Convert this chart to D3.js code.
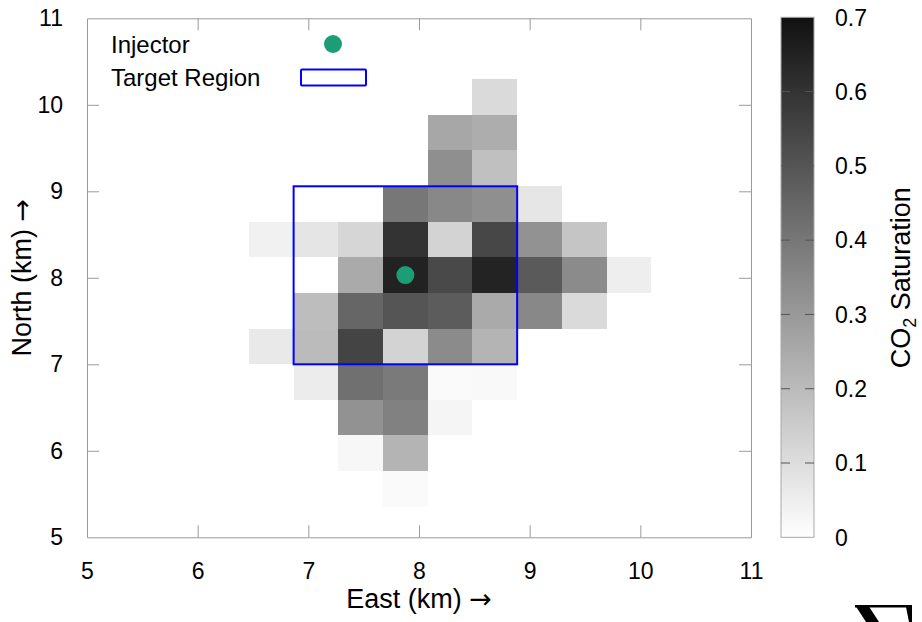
<!DOCTYPE html>
<html>
<head>
<meta charset="utf-8">
<script src="https://cdn.jsdelivr.net/npm/d3@7"></script>
<style>
  body { margin: 0; background: #fff; }
  svg { display: block; font-family: "Liberation Sans", Arial, Helvetica, sans-serif; }
  .frame path, .frame line { stroke: #9a9a9a; }
  .frame text { fill: #000; }
  .arrow { font-family: "DejaVu Sans", sans-serif; }
</style>
</head>
<body>
<div id="chart"></div>
<script>
// grid cell centres (km)
const eastCenters = [6.665, 7.069, 7.473, 7.877, 8.281, 8.685, 9.089, 9.493, 9.897];
const northCenters = [10.089, 9.677, 9.266, 8.854, 8.442, 8.031, 7.619, 7.207, 6.795, 6.384, 5.972, 5.560];
const cellW = 0.404, cellH = 0.412;

// CO2 saturation per row (north, top to bottom) and column (east); null = no cell
const saturation = [
  [null, null, null, null, null, 0.11, null, null, null],
  [null, null, null, null, 0.26, 0.24, null, null, null],
  [null, null, null, null, 0.33, 0.185, null, null, null],
  [null, null, 0, 0.40, 0.35, 0.33, 0.074, null, null],
  [0.04, 0.076, 0.12, 0.60, 0.13, 0.54, 0.32, 0.17, null],
  [null, 0, 0.25, 0.65, 0.535, 0.647, 0.485, 0.34, 0.05],
  [null, 0.194, 0.45, 0.50, 0.48, 0.25, 0.35, 0.11, null],
  [0.065, 0.20, 0.55, 0.13, 0.34, 0.22, null, null, null],
  [null, 0.056, 0.42, 0.39, 0.015, 0.018, null, null, null],
  [null, null, 0.32, 0.37, 0.03, null, null, null, null],
  [null, null, 0.024, 0.22, null, null, null, null, null],
  [null, null, null, 0.015, null, null, null, null, null]
];

const injector = { east: 7.877, north: 8.031 };
const targetEast = [6.867, 8.887];
const targetNorth = [7.0, 9.058];

const axisTicks = [5, 6, 7, 8, 9, 10, 11];
const colorTicks = [0, 0.1, 0.2, 0.3, 0.4, 0.5, 0.6, 0.7];

const width = 922, height = 622;
const margin = { left: 87, top: 18.3, right: 171, bottom: 84.7 };
const plotW = width - margin.left - margin.right;
const plotH = height - margin.top - margin.bottom;

const svg = d3.select("#chart").append("svg")
  .attr("width", width).attr("height", height);

const x = d3.scaleLinear().domain([5, 11]).range([margin.left, margin.left + plotW]);
const y = d3.scaleLinear().domain([5, 11]).range([margin.top + plotH, margin.top]);
const color = d3.scaleLinear().domain([0, 0.7]).range(["#ffffff", "#111111"]);

// cells
const cells = [];
saturation.forEach((row, i) => row.forEach((v, j) => {
  if (v !== null) cells.push({ east: eastCenters[j], north: northCenters[i], v });
}));

svg.append("g").selectAll("rect")
  .data(cells)
  .join("rect")
  .attr("x", d => x(d.east - cellW / 2))
  .attr("y", d => y(d.north + cellH / 2))
  .attr("width", d => x(d.east + cellW / 2) - x(d.east - cellW / 2))
  .attr("height", d => y(d.north - cellH / 2) - y(d.north + cellH / 2))
  .attr("fill", d => color(d.v))
  .attr("shape-rendering", "crispEdges");

// frame with inward ticks on all sides
const fs = 23;
const fmt = d3.format("d");
const frame = svg.append("g").attr("class", "frame");
frame.append("g")
  .attr("transform", `translate(0,${margin.top + plotH})`)
  .call(d3.axisBottom(x).tickValues(axisTicks).tickFormat(fmt).tickSizeInner(-12).tickSizeOuter(0).tickPadding(25))
  .call(g => g.selectAll("text").attr("font-size", fs));
frame.append("g")
  .attr("transform", `translate(0,${margin.top})`)
  .call(d3.axisTop(x).tickValues(axisTicks).tickSizeInner(-12).tickSizeOuter(0).tickFormat(""));
frame.append("g")
  .attr("transform", `translate(${margin.left},0)`)
  .call(d3.axisLeft(y).tickValues(axisTicks).tickFormat(fmt).tickSizeInner(-12).tickSizeOuter(0).tickPadding(24))
  .call(g => g.selectAll("text").attr("font-size", fs));
frame.append("g")
  .attr("transform", `translate(${margin.left + plotW},0)`)
  .call(d3.axisRight(y).tickValues(axisTicks).tickSizeInner(-12).tickSizeOuter(0).tickFormat(""));
frame.selectAll(".domain").attr("stroke", "#9a9a9a");
frame.selectAll("g.tick").filter(d => d === 5 || d === 11).select("line").remove();

// target region
svg.append("rect")
  .attr("x", x(targetEast[0]))
  .attr("y", y(targetNorth[1]))
  .attr("width", x(targetEast[1]) - x(targetEast[0]))
  .attr("height", y(targetNorth[0]) - y(targetNorth[1]))
  .attr("fill", "none")
  .attr("stroke", "#0000ff")
  .attr("stroke-width", 2);

// injector
svg.append("circle")
  .attr("cx", x(injector.east))
  .attr("cy", y(injector.north))
  .attr("r", 9)
  .attr("fill", "#1b9e77");

// legend
const legend = svg.append("g").attr("font-size", 24);
legend.append("text").attr("x", 111).attr("y", 53).text("Injector");
legend.append("text").attr("x", 111).attr("y", 85.5).text("Target Region");
legend.append("circle").attr("cx", 333).attr("cy", 44).attr("r", 9).attr("fill", "#1b9e77");
legend.append("rect").attr("x", 301).attr("y", 69.5).attr("width", 65).attr("height", 16)
  .attr("fill", "none").attr("stroke", "#0000ff").attr("stroke-width", 2).attr("rx", 1);

// axis titles
const xTitle = svg.append("text")
  .attr("x", margin.left + plotW / 2).attr("y", 608)
  .attr("text-anchor", "middle").attr("font-size", 27);
xTitle.append("tspan").text("East (km) ");
xTitle.append("tspan").attr("class", "arrow").text("\u2192");
const yTitle = svg.append("text")
  .attr("transform", `translate(31,${margin.top + plotH / 2}) rotate(-90)`)
  .attr("text-anchor", "middle").attr("font-size", 27);
yTitle.append("tspan").text("North (km) ");
yTitle.append("tspan").attr("class", "arrow").text("\u2192");

// colour bar
const cbX = 781, cbW = 33;
const cy = d3.scaleLinear().domain([0, 0.7]).range([margin.top + plotH, margin.top - 1]);
const defs = svg.append("defs");
const grad = defs.append("linearGradient").attr("id", "cbgrad")
  .attr("x1", 0).attr("y1", 1).attr("x2", 0).attr("y2", 0);
grad.selectAll("stop")
  .data(colorTicks)
  .join("stop")
  .attr("offset", d => d / 0.7)
  .attr("stop-color", d => color(d));
svg.append("rect")
  .attr("x", cbX).attr("y", cy(0.7))
  .attr("width", cbW).attr("height", cy(0) - cy(0.7))
  .attr("fill", "url(#cbgrad)")
  .attr("stroke", "#a8a8a8").attr("stroke-width", 1);
const cbTicks = svg.append("g");
cbTicks.selectAll("line.l")
  .data(colorTicks.slice(1, -1))
  .join("line")
  .attr("x1", cbX).attr("x2", cbX + 9)
  .attr("y1", d => cy(d)).attr("y2", d => cy(d))
  .attr("stroke", "#555");
cbTicks.selectAll("line.r")
  .data(colorTicks.slice(1, -1))
  .join("line")
  .attr("x1", cbX + cbW - 9).attr("x2", cbX + cbW)
  .attr("y1", d => cy(d)).attr("y2", d => cy(d))
  .attr("stroke", "#555");
svg.append("g").selectAll("text")
  .data(colorTicks)
  .join("text")
  .attr("x", 835)
  .attr("y", d => cy(d))
  .attr("dy", "0.36em")
  .attr("font-size", fs)
  .text(d => d === 0 ? "0" : d3.format(".1f")(d));

const cbLabel = svg.append("text")
  .attr("transform", `translate(910,${margin.top + plotH / 2}) rotate(-90)`)
  .attr("text-anchor", "middle").attr("font-size", 27);
cbLabel.append("tspan").text("CO");
cbLabel.append("tspan").attr("font-size", 18).attr("dy", 6).text("2");
cbLabel.append("tspan").attr("dy", -6).text(" Saturation");

// cut-off corner of the neighbouring panel's glyph
const corner = svg.append("g").attr("fill", "#000");
corner.append("path").attr("d", "M855,605 L868,605 L879,622 L866,622 Z");
corner.append("path").attr("d", "M855,605 L912,605 L912,607.5 L855,607.5 Z");
corner.append("path").attr("d", "M906,607 L912,605 L912,622 L909,622 Z");
</script>
</body>
</html>
